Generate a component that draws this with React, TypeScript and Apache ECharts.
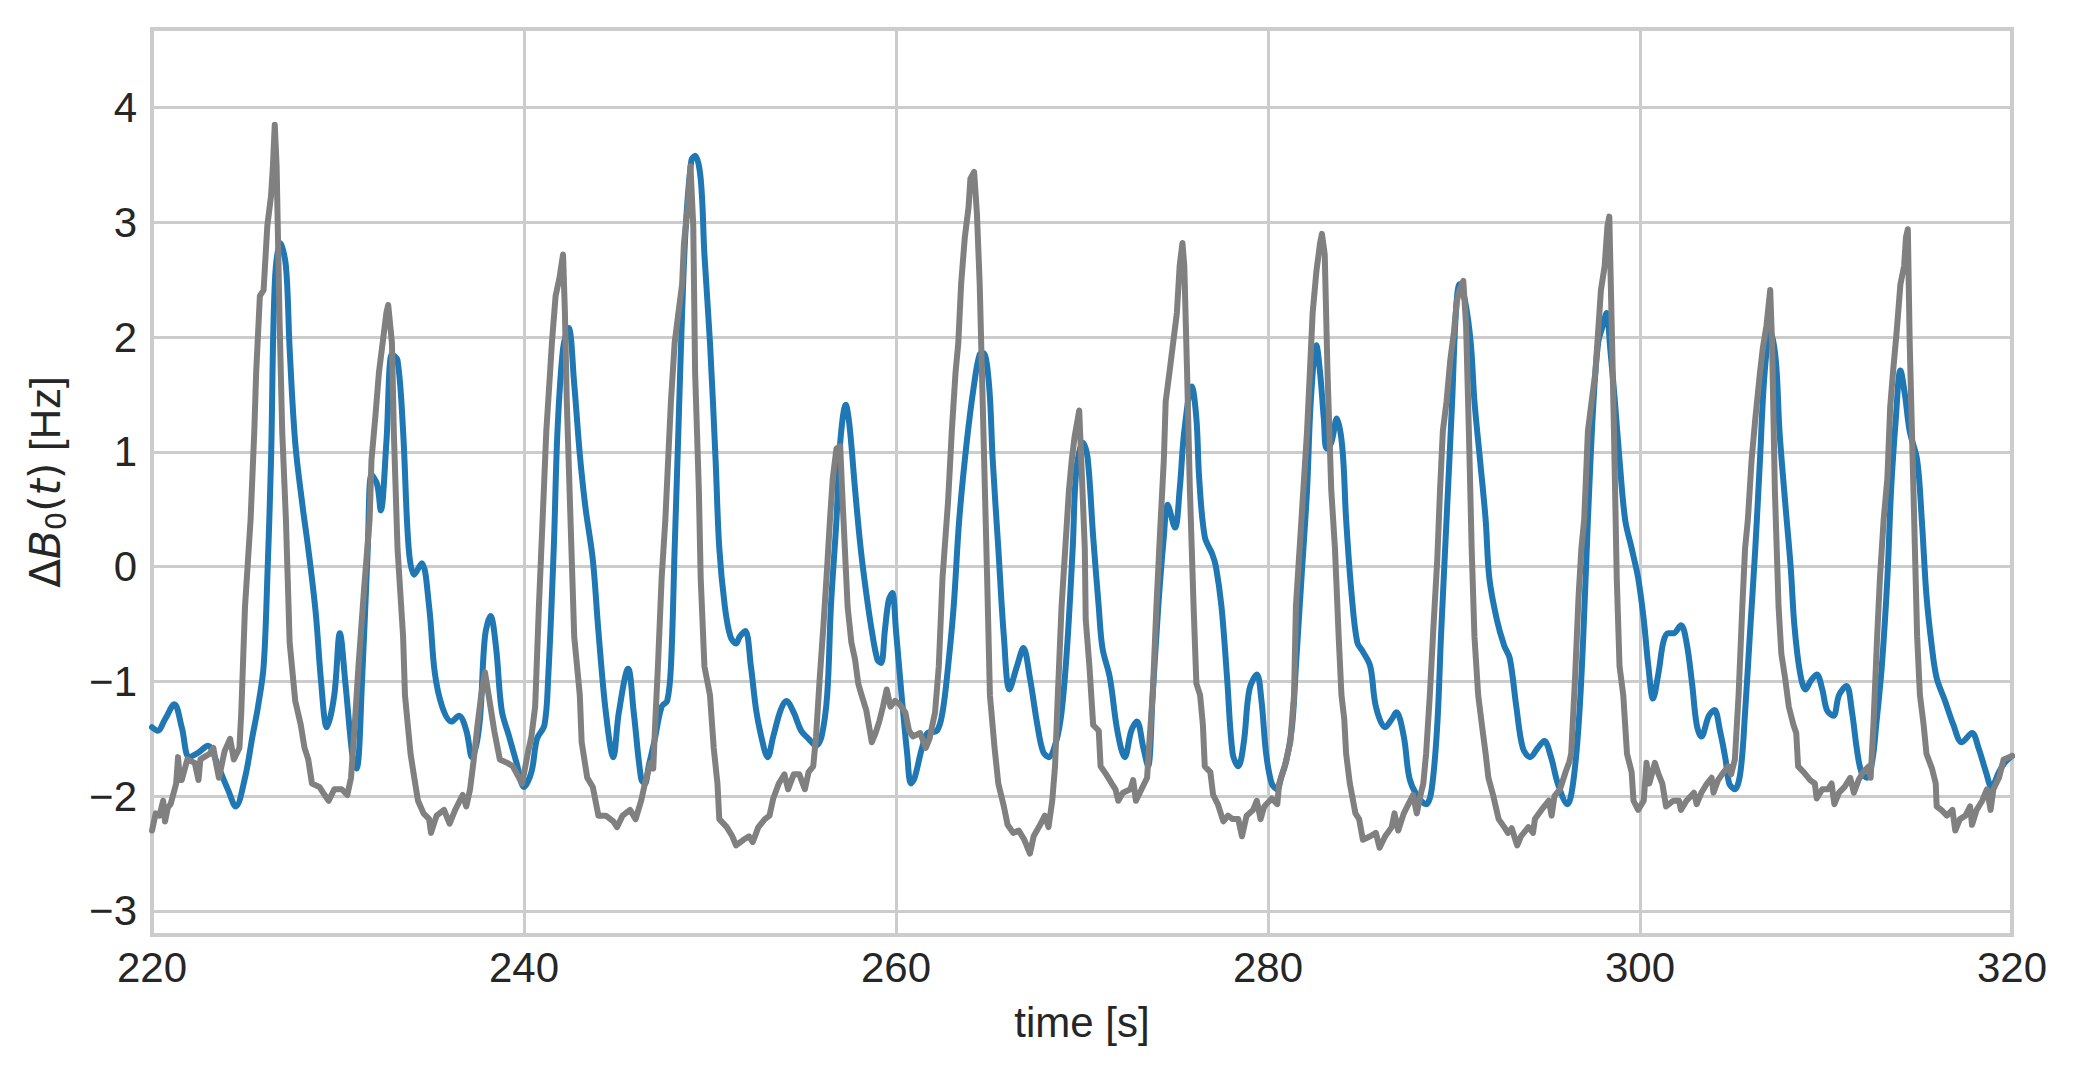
import React, { useEffect, useRef } from "react";
import * as echarts from "echarts";

// x-axis ticks (time [s]) and y-axis range (Hz)
const xTicks = [220, 240, 260, 280, 300, 320];
const yRange = [-3.21, 4.685];

// Blue trace: [time s, ΔB0 Hz]
const blueA = [
  [220.0, -1.4], [220.3, -1.43], [220.7, -1.33], [221.2, -1.2], [221.6, -1.4], [222.0, -1.66], [222.5, -1.62], [223.0, -1.56],
  [223.6, -1.76], [224.1, -1.95], [224.5, -2.09], [225.0, -1.84], [225.4, -1.48], [225.7, -1.22], [226.0, -0.87], [226.2, -0.1],
  [226.4, 0.93], [226.6, 2.46], [226.9, 2.82], [227.2, 2.62], [227.4, 1.9], [227.7, 1.08], [228.1, 0.52], [228.4, 0.16],
  [228.8, -0.4], [229.1, -1.02], [229.4, -1.4], [229.8, -1.12], [230.1, -0.58], [230.4, -1.02], [230.8, -1.68], [231.0, -1.76],
  [231.3, -0.97], [231.6, 0.16], [231.8, 0.8], [232.1, 0.72], [232.3, 0.49], [232.6, 1.08], [232.9, 1.85], [233.2, 1.8],
  [233.5, 1.18], [233.8, 0.16], [234.1, -0.07], [234.5, 0.03], [234.9, -0.35], [235.2, -0.92], [235.6, -1.22], [236.1, -1.35],
  [236.5, -1.3], [236.9, -1.43], [237.2, -1.66], [237.6, -1.38], [237.9, -0.61], [238.2, -0.43], [238.5, -0.71], [238.8, -1.25],
  [239.2, -1.48], [239.6, -1.71], [240.0, -1.92], [240.4, -1.79], [240.7, -1.5], [241.1, -1.38], [241.3, -0.97], [241.6, 0.16],
  [241.8, 1.18], [242.1, 1.9], [242.4, 2.08], [242.7, 1.59], [243.0, 0.98], [243.3, 0.52], [243.7, 0.06], [244.0, -0.56],
  [244.4, -1.27], [244.8, -1.66], [245.1, -1.27], [245.6, -0.89], [245.9, -1.27], [246.3, -1.85], [246.5, -1.89], [246.7, -1.74],
];
const blueB = [
  [247.0, -1.53], [247.4, -1.22], [247.7, -1.17], [247.9, -0.87], [248.1, 0.16], [248.3, 1.18], [248.5, 2.21], [248.7, 2.97],
  [249.0, 3.54], [249.2, 3.58], [249.5, 3.38], [249.7, 2.72], [250.0, 1.95], [250.3, 0.93], [250.5, 0.16], [250.8, -0.35],
  [251.1, -0.61], [251.4, -0.67], [251.6, -0.61], [251.9, -0.56], [252.2, -0.87], [252.5, -1.27], [252.9, -1.58], [253.1, -1.66],
  [253.4, -1.48], [253.8, -1.25], [254.1, -1.17], [254.5, -1.27], [254.9, -1.43], [255.3, -1.5], [255.7, -1.56], [256.0, -1.48],
  [256.3, -1.12], [256.5, -0.35], [256.8, 0.41], [257.0, 1.08], [257.3, 1.41], [257.5, 1.23], [257.8, 0.67], [258.1, 0.16],
  [258.4, -0.23], [258.7, -0.56], [259.0, -0.81], [259.2, -0.84], [259.4, -0.56], [259.6, -0.3], [259.8, -0.23], [260.0, -0.56],
  [260.3, -1.12], [260.6, -1.63], [260.8, -1.89], [261.0, -1.84], [261.4, -1.58], [261.7, -1.45], [262.2, -1.43], [262.5, -1.27],
  [262.8, -0.87], [263.1, -0.35], [263.4, 0.41], [263.8, 1.08], [264.2, 1.59], [264.5, 1.85], [264.7, 1.86], [265.0, 1.59],
  [265.2, 0.93], [265.5, 0.16], [265.8, -0.61], [266.1, -1.07], [266.5, -0.87], [266.85, -0.71], [267.2, -0.97], [267.6, -1.38],
  [267.9, -1.61], [268.2, -1.66], [268.6, -1.53], [268.9, -1.27], [269.2, -0.7],
];
const blueC = [
  [269.5, 0.16], [269.7, 0.85], [270.05, 1.08], [270.3, 0.95], [270.6, 0.26], [270.9, -0.35], [271.1, -0.71], [271.5, -0.97],
  [271.9, -1.43], [272.3, -1.66], [272.65, -1.43], [272.95, -1.35], [273.3, -1.58], [273.55, -1.74], [273.8, -1.12], [274.1, -0.35],
  [274.4, 0.26], [274.6, 0.54], [275.0, 0.34], [275.25, 0.67], [275.5, 1.18], [275.9, 1.57], [276.15, 1.29], [276.3, 0.77],
  [276.6, 0.26], [277.0, 0.11], [277.2, 0.0], [277.5, -0.35], [277.8, -0.97], [278.1, -1.63], [278.4, -1.74], [278.7, -1.53],
  [279.0, -1.07], [279.4, -0.94], [279.65, -1.17], [279.9, -1.63], [280.2, -1.89], [280.5, -1.94], [280.7, -1.84], [281.0, -1.68],
  [281.3, -1.38], [281.5, -0.87], [281.8, -0.1], [282.1, 0.67], [282.3, 1.44], [282.6, 1.93], [282.8, 1.69], [283.0, 1.29],
  [283.15, 1.03], [283.4, 1.08], [283.7, 1.29], [284.0, 1.03], [284.2, 0.41], [284.5, -0.25], [284.8, -0.66], [285.1, -0.74],
  [285.5, -0.87], [285.8, -1.22], [286.3, -1.4], [286.65, -1.33], [286.9, -1.27], [287.3, -1.48], [287.6, -1.84], [288.0, -1.99],
  [288.5, -2.07], [288.8, -1.94], [289.1, -1.38], [289.3, -0.61], [289.6, 0.41], [289.9, 1.44], [290.1, 2.21], [290.3, 2.46],
  [290.6, 2.31], [290.9, 1.95], [291.1, 1.44], [291.4, 0.93], [291.7, 0.41], [291.9, -0.1], [292.3, -0.46], [292.7, -0.69],
];
const blueD = [
  [293.0, -0.8], [293.35, -1.22], [293.7, -1.58], [294.1, -1.66], [294.5, -1.58], [294.85, -1.52], [295.2, -1.65], [295.6, -1.9],
  [296.1, -2.07], [296.4, -1.89], [296.7, -1.38], [296.95, -0.61], [297.2, 0.41], [297.5, 1.44], [297.75, 1.95], [298.0, 2.1],
  [298.2, 2.21], [298.4, 1.9], [298.65, 1.44], [298.9, 0.93], [299.2, 0.41], [299.55, 0.16], [299.9, -0.1], [300.2, -0.46],
  [300.45, -0.87], [300.7, -1.15], [301.0, -0.92], [301.25, -0.66], [301.5, -0.58], [301.8, -0.58], [302.2, -0.51], [302.5, -0.66],
  [302.8, -1.02], [303.05, -1.38], [303.3, -1.48], [303.7, -1.3], [304.0, -1.25], [304.3, -1.43], [304.6, -1.68], [304.8, -1.89],
  [305.1, -1.94], [305.4, -1.79], [305.65, -1.27], [305.9, -0.61], [306.2, 0.16], [306.45, 0.93], [306.7, 1.69], [307.0, 2.05],
  [307.3, 1.8], [307.5, 1.18], [307.8, 0.57], [308.1, 0.0], [308.3, -0.51], [308.6, -0.92], [308.9, -1.07], [309.2, -0.99],
  [309.5, -0.94], [309.8, -1.07], [310.05, -1.25], [310.4, -1.3], [310.7, -1.12], [311.1, -1.04], [311.4, -1.27], [311.65, -1.58],
  [311.9, -1.79], [312.2, -1.84], [312.5, -1.68], [312.7, -1.38], [313.0, -0.87], [313.3, -0.1], [313.5, 0.67], [313.75, 1.28],
  [314.0, 1.71], [314.25, 1.49], [314.5, 1.18], [314.9, 0.93], [315.15, 0.41], [315.4, -0.25], [315.7, -0.71], [315.95, -0.97],
  [316.4, -1.17], [316.85, -1.38], [317.3, -1.53], [317.85, -1.45], [318.2, -1.58], [318.6, -1.79], [318.9, -1.92], [319.3, -1.79],
  [319.6, -1.71], [320.0, -1.65],
];

// Grey trace: [time s, ΔB0 Hz]
const greyA = [
  [220.0, -2.3], [220.2, -2.15], [220.4, -2.17], [220.6, -2.04], [220.7, -2.22], [220.85, -2.1], [221.0, -2.07], [221.3, -1.89],
  [221.4, -1.66], [221.5, -1.86], [221.6, -1.86], [221.9, -1.68], [222.3, -1.71], [222.5, -1.86], [222.6, -1.68], [222.8, -1.66],
  [223.1, -1.63], [223.3, -1.58], [223.45, -1.72], [223.6, -1.84], [223.9, -1.61], [224.2, -1.5], [224.4, -1.68], [224.7, -1.58],
  [224.8, -1.27], [225.0, -0.35], [225.3, 0.41], [225.5, 1.18], [225.6, 1.69], [225.8, 2.36], [226.0, 2.41], [226.2, 2.97],
  [226.4, 3.23], [226.5, 3.49], [226.6, 3.85], [226.7, 3.49], [226.85, 2.21], [227.0, 1.18], [227.2, 0.41], [227.4, -0.66],
  [227.7, -1.17], [228.0, -1.38], [228.2, -1.58], [228.4, -1.68], [228.6, -1.89], [229.0, -1.92], [229.2, -1.97], [229.5, -2.04],
  [229.8, -1.94], [230.2, -1.94], [230.5, -1.99], [230.7, -1.84], [230.9, -1.38], [231.1, -0.87], [231.4, -0.2], [231.7, 0.41],
  [231.8, 0.93], [232.0, 1.29], [232.2, 1.69], [232.4, 1.95], [232.6, 2.21], [232.7, 2.28], [232.9, 1.95], [233.0, 1.18],
  [233.2, 0.16], [233.5, -0.61], [233.6, -1.12], [233.9, -1.63], [234.1, -1.84], [234.3, -2.04], [234.6, -2.15], [234.9, -2.2],
  [235.0, -2.32], [235.3, -2.17], [235.7, -2.12], [236.0, -2.24], [236.3, -2.12], [236.7, -1.99], [236.9, -2.09], [237.1, -1.94],
  [237.3, -1.68], [237.5, -1.38], [237.7, -1.12], [237.9, -0.92], [238.1, -1.12], [238.4, -1.43], [238.7, -1.68], [239.1, -1.71],
  [239.4, -1.74], [239.8, -1.86], [239.9, -1.89], [240.2, -1.63], [240.4, -1.48], [240.6, -1.22], [240.8, -0.35], [241.0, 0.41],
  [241.2, 1.18], [241.4, 1.69], [241.5, 1.95], [241.7, 2.36], [241.9, 2.51], [242.1, 2.72], [242.2, 2.21], [242.3, 1.44],
  [242.5, 0.41], [242.7, -0.61], [243.0, -1.12], [243.1, -1.53], [243.4, -1.84], [243.7, -1.92], [244.0, -2.17], [244.4, -2.17],
  [244.8, -2.22], [245.0, -2.27], [245.3, -2.17], [245.7, -2.12], [246.0, -2.2], [246.3, -2.04], [246.5, -1.89], [246.8, -1.71],
  [246.95, -1.76],
];
const greyB = [
  [247.05, -1.38], [247.2, -0.87], [247.4, -0.1], [247.6, 0.41], [247.75, 0.93], [247.9, 1.44], [248.1, 1.95], [248.3, 2.21],
  [248.5, 2.46], [248.6, 2.82], [248.8, 3.13], [248.95, 3.49], [249.1, 2.97], [249.2, 1.69], [249.4, 0.67], [249.5, -0.1],
  [249.7, -0.87], [250.0, -1.12], [250.2, -1.58], [250.4, -1.89], [250.5, -2.2], [250.9, -2.27], [251.2, -2.35], [251.4, -2.43],
  [251.8, -2.38], [252.1, -2.35], [252.3, -2.4], [252.6, -2.27], [252.95, -2.2], [253.2, -2.17], [253.4, -2.02], [253.7, -1.89],
  [254.0, -1.81], [254.2, -1.94], [254.5, -1.81], [254.8, -1.81], [255.1, -1.94], [255.3, -1.79], [255.55, -1.74], [255.7, -1.48],
  [255.9, -0.97], [256.1, -0.51], [256.3, 0.0], [256.45, 0.41], [256.6, 0.77], [256.8, 1.03], [257.0, 1.05], [257.1, 0.67],
  [257.25, 0.16], [257.4, -0.35], [257.6, -0.66], [257.8, -0.81], [257.97, -1.02], [258.15, -1.12], [258.4, -1.25], [258.7, -1.53],
  [258.9, -1.45], [259.1, -1.35], [259.3, -1.22], [259.5, -1.07], [259.7, -1.22], [259.95, -1.17], [260.2, -1.2], [260.5, -1.27],
  [260.7, -1.43], [260.9, -1.48], [261.3, -1.45], [261.6, -1.58], [261.8, -1.5], [262.1, -1.27], [262.3, -0.87], [262.5, -0.1],
  [262.8, 0.57], [263.0, 1.18], [263.2, 1.69], [263.35, 1.95], [263.5, 2.46], [263.7, 2.87], [263.9, 3.13], [264.0, 3.38],
  [264.2, 3.44], [264.35, 3.08], [264.5, 2.46], [264.7, 1.18], [264.9, -0.1], [265.05, -1.12], [265.3, -1.58], [265.5, -1.89],
  [265.8, -2.09], [266.0, -2.25], [266.3, -2.32], [266.6, -2.3], [266.9, -2.38], [267.2, -2.5], [267.4, -2.35], [267.75, -2.25],
  [268.0, -2.17], [268.2, -2.27], [268.4, -2.04], [268.55, -1.74], [268.7, -1.12], [268.9, -0.35],
];
const greyC = [
  [269.1, 0.16], [269.3, 0.67], [269.45, 0.93], [269.6, 1.13], [269.85, 1.36], [270.0, 0.77], [270.15, 0.16], [270.2, -0.46],
  [270.4, -0.87], [270.6, -1.38], [270.9, -1.43], [271.0, -1.74], [271.3, -1.81], [271.6, -1.89], [271.8, -1.94], [271.95, -2.04],
  [272.2, -1.97], [272.6, -1.94], [272.75, -1.86], [272.9, -2.04], [273.2, -1.94], [273.5, -1.84], [273.6, -1.58], [273.8, -1.12],
  [274.0, -0.35], [274.2, 0.31], [274.4, 0.93], [274.5, 1.44], [274.7, 1.69], [274.9, 1.95], [275.1, 2.21], [275.25, 2.62],
  [275.4, 2.82], [275.5, 2.62], [275.65, 1.69], [275.8, 0.67], [276.0, -0.35], [276.15, -1.02], [276.35, -1.12], [276.5, -1.38],
  [276.6, -1.74], [276.9, -1.79], [277.05, -1.99], [277.3, -2.07], [277.6, -2.22], [277.85, -2.17], [278.1, -2.2], [278.4, -2.2],
  [278.6, -2.35], [278.85, -2.17], [279.2, -2.12], [279.4, -2.04], [279.6, -2.2], [279.8, -2.09], [280.2, -2.02], [280.5, -2.07],
  [280.6, -1.89], [280.9, -1.74], [281.2, -1.53], [281.4, -1.12], [281.5, -0.35], [281.7, 0.16], [281.9, 0.67], [282.1, 1.18],
  [282.25, 1.69], [282.4, 2.21], [282.6, 2.57], [282.8, 2.82], [282.9, 2.9], [283.05, 2.72], [283.2, 1.69], [283.4, 0.67],
  [283.6, 0.16], [283.8, -0.61], [283.95, -1.12], [284.1, -1.33], [284.2, -1.63], [284.4, -1.89], [284.7, -2.15], [284.9, -2.2],
  [285.1, -2.38], [285.5, -2.35], [285.8, -2.32], [286.0, -2.45], [286.3, -2.35], [286.65, -2.27], [286.8, -2.15], [287.0, -2.3],
  [287.3, -2.15], [287.55, -2.07], [287.8, -1.99], [288.0, -2.15], [288.2, -1.99], [288.35, -1.89], [288.5, -1.63], [288.7, -1.12],
  [288.9, -0.51], [289.1, 0.06], [289.25, 0.67], [289.4, 1.18], [289.6, 1.44], [289.8, 1.8], [290.0, 2.05], [290.15, 2.31],
  [290.3, 2.41], [290.5, 2.49], [290.65, 2.1], [290.8, 1.18], [290.95, 0.16], [291.1, -0.61], [291.3, -1.12], [291.5, -1.38],
  [291.7, -1.63], [291.85, -1.84], [292.1, -1.99], [292.4, -2.2], [292.7, -2.27], [292.9, -2.32], [293.1, -2.28], [293.4, -2.43],
  [293.6, -2.35], [294.0, -2.27], [294.25, -2.32], [294.35, -2.2], [294.7, -2.12], [295.1, -2.04], [295.25, -2.17], [295.4, -2.0],
  [295.7, -1.94], [296.0, -1.79], [296.2, -1.7], [296.3, -1.63],
];
const greyD = [
  [296.5, -1.0], [296.7, -0.25], [296.85, 0.16], [297.0, 0.41], [297.2, 1.18], [297.4, 1.44], [297.6, 1.69], [297.75, 2.05],
  [297.9, 2.41], [298.1, 2.62], [298.25, 2.97], [298.35, 3.05], [298.5, 1.95], [298.6, 1.18], [298.75, -0.1], [298.9, -0.87],
  [299.1, -1.12], [299.3, -1.63], [299.55, -1.79], [299.65, -2.04], [299.9, -2.12], [300.2, -2.04], [300.35, -1.71], [300.5, -1.89],
  [300.8, -1.71], [301.0, -1.81], [301.2, -1.89], [301.4, -2.09], [301.8, -2.04], [302.1, -2.04], [302.2, -2.12], [302.5, -2.04],
  [302.9, -1.97], [303.05, -2.07], [303.3, -1.97], [303.6, -1.89], [303.85, -1.84], [303.95, -1.97], [304.2, -1.86], [304.5, -1.79],
  [304.75, -1.74], [304.9, -1.81], [305.1, -1.68], [305.3, -1.12], [305.5, -0.35], [305.65, 0.16], [305.8, 0.41], [306.0, 0.93],
  [306.2, 1.29], [306.45, 1.69], [306.6, 1.9], [306.8, 2.1], [307.0, 2.41], [307.1, 1.95], [307.25, 0.67], [307.45, -0.35],
  [307.6, -0.76], [307.8, -0.97], [308.0, -1.22], [308.25, -1.38], [308.4, -1.45], [308.5, -1.74], [308.8, -1.79], [309.15, -1.86],
  [309.4, -1.89], [309.5, -2.02], [309.8, -1.94], [310.1, -1.94], [310.3, -1.89], [310.45, -2.07], [310.7, -1.97], [311.0, -1.92],
  [311.3, -1.84], [311.5, -1.97], [311.75, -1.86], [312.0, -1.79], [312.3, -1.74], [312.4, -1.84], [312.55, -1.38], [312.75, -0.61],
  [312.9, -0.1], [313.1, 0.41], [313.3, 0.77], [313.45, 1.39], [313.6, 1.69], [313.8, 2.05], [314.0, 2.46], [314.2, 2.62],
  [314.3, 2.87], [314.4, 2.94], [314.5, 1.95], [314.7, 0.67], [314.9, -0.61], [315.05, -1.12], [315.25, -1.38], [315.4, -1.63],
  [315.7, -1.76], [315.9, -1.89], [315.95, -2.09], [316.2, -2.12], [316.5, -2.17], [316.8, -2.12], [316.95, -2.3], [317.2, -2.2],
  [317.5, -2.17], [317.75, -2.09], [317.85, -2.25], [318.1, -2.12], [318.4, -2.04], [318.65, -1.94], [318.85, -2.12], [319.0, -1.94],
  [319.3, -1.84], [319.55, -1.68], [320.0, -1.65],
];

const TEXT = "#262626";
const GRID = "#cccccc";
const SANS = "Liberation Sans, Arial, sans-serif";
const MATH = "DejaVu Sans, sans-serif";

export default function App() {
  const ref = useRef<HTMLDivElement>(null);

  useEffect(() => {
    if (!ref.current) return;
    const chart = echarts.init(ref.current, undefined, { renderer: "svg" });
    const fmtY = (v: number) => {
      if (Math.abs(v - Math.round(v)) > 1e-6) return "";
      const r = Math.round(v);
      return r < 0 ? "\u2212" + Math.abs(r) : String(r);
    };
    chart.setOption({
      animation: false,
      backgroundColor: "#ffffff",
      grid: {
        left: 152,
        top: 29,
        width: 1860,
        height: 906,
        show: true,
        borderColor: GRID,
        borderWidth: 4,
        backgroundColor: "transparent",
      },
      xAxis: {
        type: "value",
        min: xTicks[0],
        max: xTicks[xTicks.length - 1],
        interval: 20,
        name: "time [s]",
        nameLocation: "middle",
        nameGap: 66,
        nameTextStyle: { fontFamily: SANS, fontSize: 42, color: TEXT },
        axisLine: { show: false },
        axisTick: { show: false },
        axisLabel: { fontFamily: SANS, fontSize: 42, color: TEXT, margin: 11 },
        splitLine: { show: true, lineStyle: { color: GRID, width: 3 } },
      },
      yAxis: {
        type: "value",
        min: yRange[0],
        max: yRange[1],
        splitNumber: 8,
        name: "{d|Δ}{i|B}{s|0}{d|(}{i|t}{d|)}{h| [Hz]}",
        nameLocation: "middle",
        nameRotate: 90,
        nameGap: 82,
        nameTextStyle: {
          fontFamily: SANS,
          fontSize: 42,
          color: TEXT,
          rich: {
            d: { fontFamily: MATH, fontSize: 42, color: TEXT, lineHeight: 50 },
            i: { fontFamily: MATH, fontStyle: "italic", fontSize: 42, color: TEXT, lineHeight: 50 },
            s: { fontFamily: MATH, fontSize: 29, color: TEXT, lineHeight: 30, verticalAlign: "bottom" },
            h: { fontFamily: SANS, fontSize: 42, color: TEXT, lineHeight: 50 },
          },
        },
        axisLine: { show: false },
        axisTick: { show: false },
        axisLabel: {
          fontFamily: SANS,
          fontSize: 42,
          color: TEXT,
          margin: 15,
          showMinLabel: false,
          showMaxLabel: false,
          formatter: fmtY,
        },
        splitLine: { show: true, lineStyle: { color: GRID, width: 3 } },
      },
      series: [
        {
          type: "line",
          data: [...blueA, ...blueB, ...blueC, ...blueD],
          showSymbol: false,
          smooth: 0.35,
          lineStyle: { color: "#1f77b4", width: 6, join: "round", cap: "round" },
          itemStyle: { color: "#1f77b4" },
          z: 2,
        },
        {
          type: "line",
          data: [...greyA, ...greyB, ...greyC, ...greyD],
          showSymbol: false,
          lineStyle: { color: "#808080", width: 6, join: "round", cap: "round" },
          itemStyle: { color: "#808080" },
          z: 3,
        },
      ],
    });
    return () => chart.dispose();
  }, []);

  return (
    <div
      ref={ref}
      style={{ position: "fixed", left: 0, top: 0, width: 2076, height: 1073, background: "#ffffff" }}
    />
  );
}
